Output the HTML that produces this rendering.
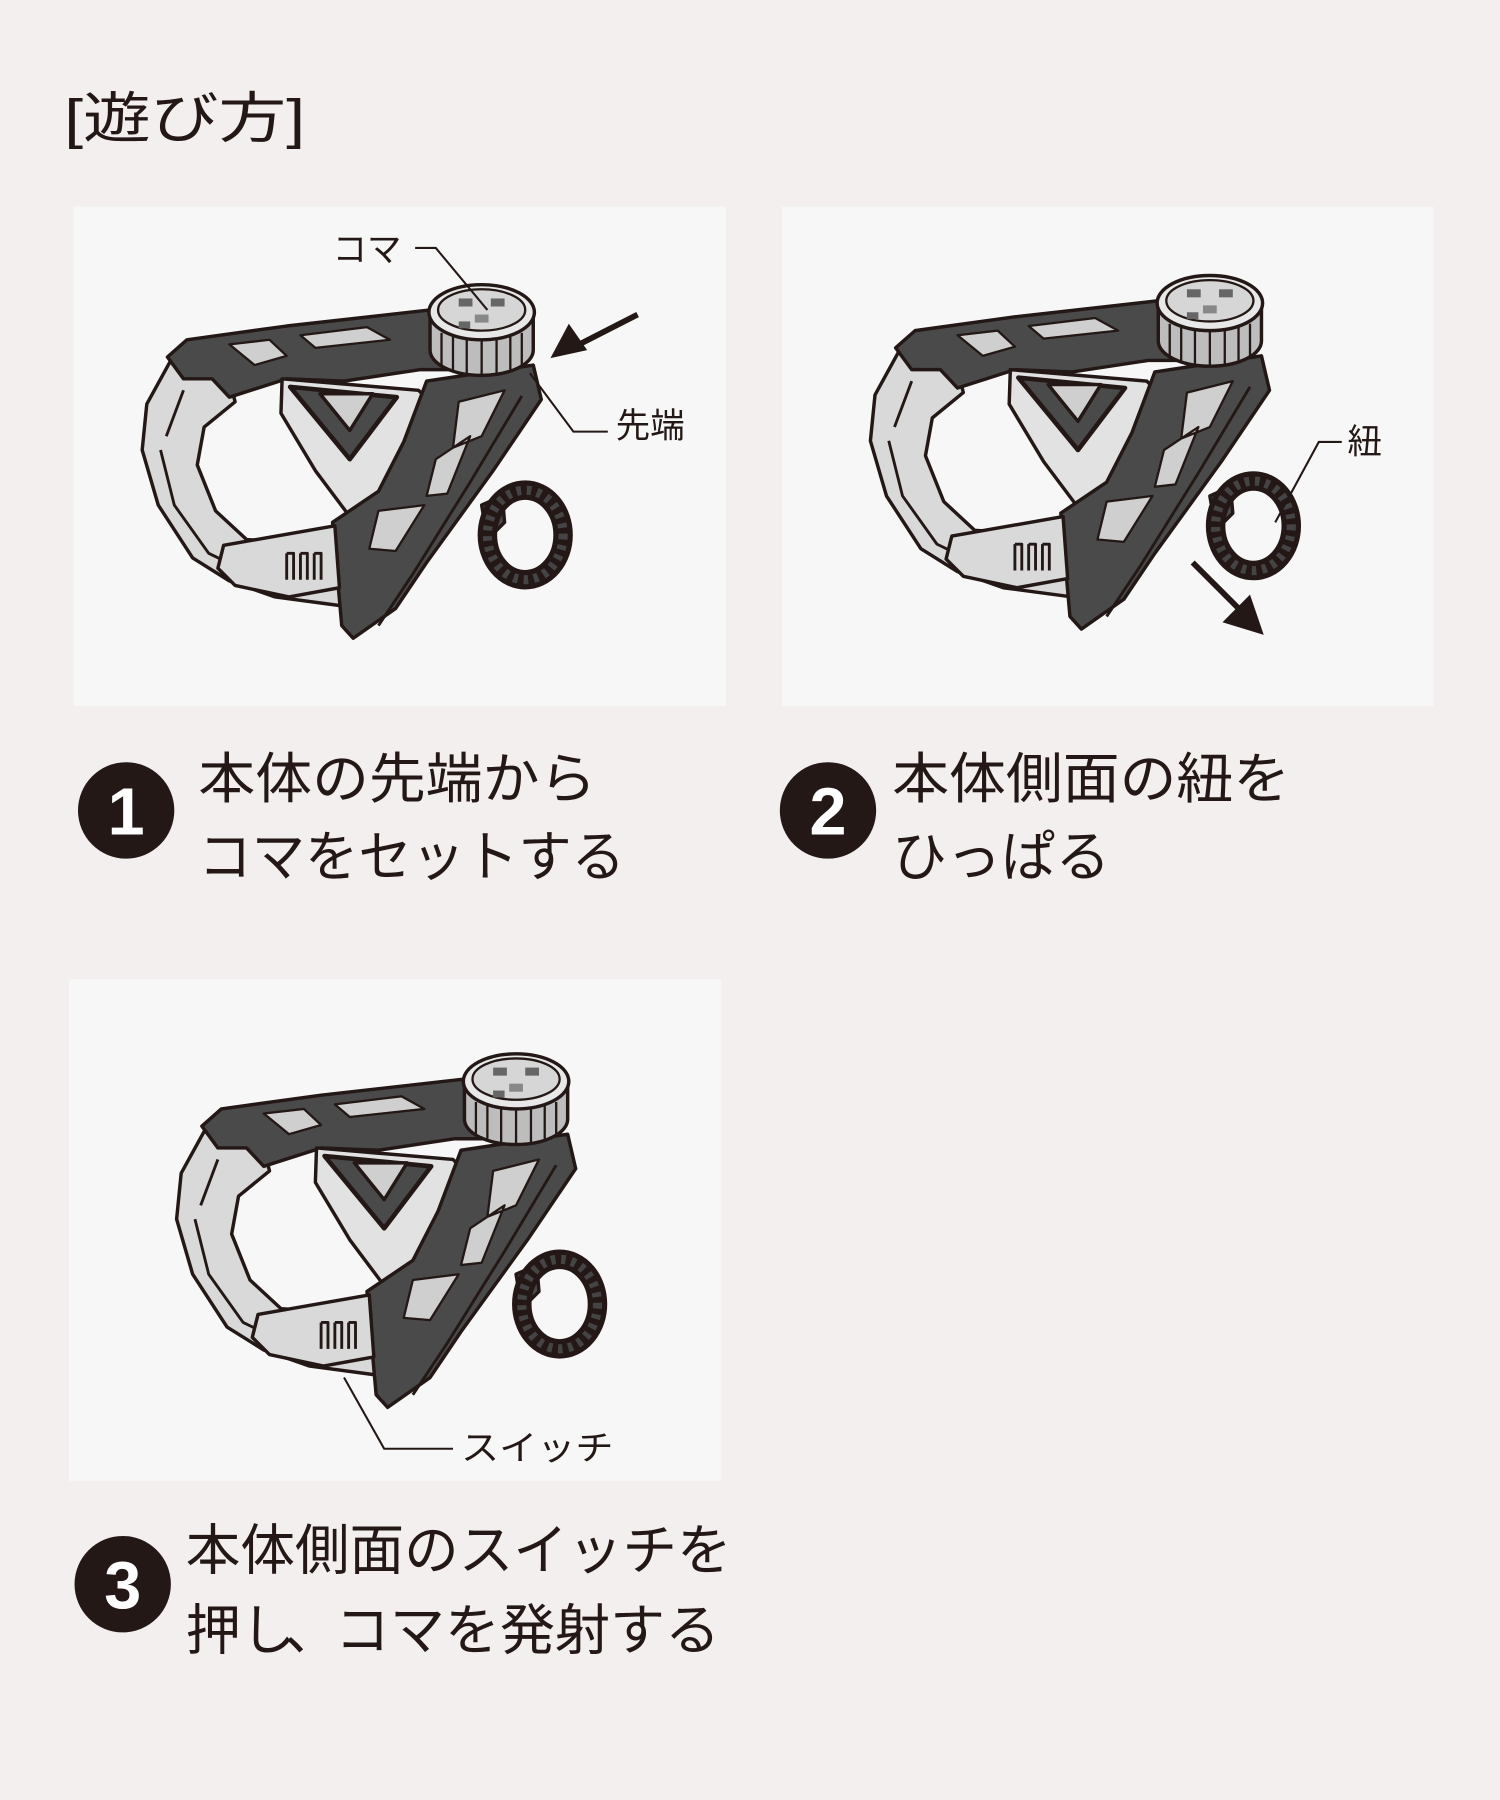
<!DOCTYPE html>
<html><head><meta charset="utf-8"><style>
html,body{margin:0;padding:0;background:#f2efee;}
svg{display:block;}
</style></head><body>
<svg width="1500" height="1800" viewBox="0 0 1308 1568" preserveAspectRatio="none" xmlns="http://www.w3.org/2000/svg" font-family="'Liberation Sans','Noto Sans CJK JP',sans-serif">
<defs>
<g id="dev" stroke="#231815" stroke-width="3" stroke-linejoin="round">
  <path d="M150,312 L128,352 L124,392 L138,440 L168,486 L200,506 L240,520 L300,528 L300,475 L215,470 L188,445 L172,405 L178,372 L205,350 L200,330 Z" fill="#d9d9d9"/>
  <path d="M140,392 L152,440 L182,482 L215,498" fill="none" stroke-width="2.5"/>
  <path d="M160,340 L145,380" fill="none" stroke-width="2.5"/>
  <path d="M146,311 L163,296 L250,284 L375,270 L430,262 L445,305 L420,322 L366,322 L300,332 L250,330 L200,346 L185,330 L160,330 Z" fill="#4a4a4a"/>
  <path d="M200,300 L235,296 L250,310 L222,318 Z M262,292 L320,285 L340,296 L275,303 Z" fill="#cfcfcf" stroke-width="2"/>
  <path d="M246,330 L365,340 L385,360 L340,440 L305,450 L275,410 L245,360 Z" fill="#e2e2e2"/>
  <path d="M253,337 L346,346 L305,400 Z" fill="#4a4a4a" stroke-width="4"/>
  <path d="M279,343 L325,343 L305,375 Z" fill="#cfcfcf"/>
  <path d="M372,332 L465,318 L472,348 L430,410 L372,490 L345,530 L308,556 L298,545 L290,455 L330,428 L352,385 Z" fill="#4a4a4a"/>
  <path d="M400,350 L440,340 L420,380 L395,390 Z M330,445 L370,440 L345,480 L322,478 Z M380,400 L410,380 L390,430 L372,432 Z" fill="#cfcfcf" stroke-width="2"/>
  <path d="M455,345 L410,420 L360,500 L330,545" fill="none" stroke-width="2.5"/>
  <path d="M195,475 L292,458 L296,512 L252,520 L205,510 L190,495 Z" fill="#d9d9d9"/>
  <path d="M250,482 L256,482 L256,505 M250,482 L250,505 M262,482 L268,482 L268,505 M262,482 L262,505 M274,482 L280,482 L280,505 M274,482 L274,505" fill="none" stroke-width="2.5"/>
  <path d="M420,440 L438,432 L440,455 L425,470 Z" fill="#4a4a4a"/>
  <ellipse cx="458" cy="466" rx="33" ry="39" fill="none" stroke="#231815" stroke-width="17"/>
  <ellipse cx="458" cy="466" rx="33" ry="39" fill="none" stroke="#444" stroke-width="8" stroke-dasharray="4 5"/>
  <path d="M375,272 L375,305 A45,22 0 0 0 465,305 L465,272 Z" fill="#bdbdbd"/>
  <path d="M385,290 L385,318 M395,293 L395,322 M407,295 L407,325 M420,296 L420,327 M433,295 L433,325 M445,293 L445,322 M455,290 L455,318" stroke-width="2"/>
  <ellipse cx="420" cy="272" rx="46" ry="24" fill="#e8e8e8"/>
  <ellipse cx="420" cy="270" rx="38" ry="18" fill="#d6d6d6" stroke-width="2"/>
  <rect x="400" y="260" width="12" height="7" fill="#666" stroke="none"/>
  <rect x="428" y="260" width="12" height="7" fill="#666" stroke="none"/>
  <rect x="414" y="274" width="12" height="7" fill="#888" stroke="none"/>
  <rect x="400" y="280" width="10" height="6" fill="#666" stroke="none"/>
</g>
</defs>
<text x="56" y="120" font-size="48" fill="#231815" textLength="210" lengthAdjust="spacingAndGlyphs">[遊び方]</text>

<rect x="64" y="180" width="569" height="435" fill="#f7f7f7"/>
<rect x="682" y="180" width="568" height="435" fill="#f7f7f7"/>
<rect x="60" y="853" width="569" height="437" fill="#f7f7f7"/>

<use href="#dev"/>
<use href="#dev" transform="translate(635,-8)"/>
<use href="#dev" transform="translate(30,670)"/>

<g stroke="#231815" stroke-width="1.8" fill="none">
  <path d="M362,216 L380,216 L425,270"/>
  <path d="M530,376 L500,376 L462,325"/>
  <path d="M1170,385 L1150,385 L1112,455"/>
  <path d="M395,1262 L335,1262 L300,1200"/>
</g>
<g stroke="#231815" stroke-width="5" fill="#231815">
  <path d="M556,274 L505,300"/>
  <path d="M1040,490 L1082,532"/>
</g>
<path d="M480,312 L496,282 L512,305 Z" fill="#231815"/>
<path d="M1102,553 L1066,542 L1090,518 Z" fill="#231815"/>

<g font-size="30" fill="#231815">
  <text x="290" y="228">コマ</text>
  <text x="537" y="381">先端</text>
  <text x="1175" y="395">紐</text>
  <text x="402" y="1272" textLength="133" lengthAdjust="spacingAndGlyphs">スイッチ</text>
</g>

<g font-size="48" fill="#231815">
  <circle cx="110" cy="706" r="42" fill="#231815"/>
  <text x="110" y="727" font-size="58" font-weight="bold" fill="#fff" text-anchor="middle">1</text>
  <text x="173" y="695" textLength="347" lengthAdjust="spacingAndGlyphs">本体の先端から</text>
  <text x="173" y="763" textLength="372" lengthAdjust="spacingAndGlyphs">コマをセットする</text>

  <circle cx="722" cy="706" r="42" fill="#231815"/>
  <text x="722" y="727" font-size="58" font-weight="bold" fill="#fff" text-anchor="middle">2</text>
  <text x="778" y="695" textLength="347" lengthAdjust="spacingAndGlyphs">本体側面の紐を</text>
  <text x="778" y="763" textLength="190" lengthAdjust="spacingAndGlyphs">ひっぱる</text>

  <circle cx="107" cy="1380" r="42" fill="#231815"/>
  <text x="107" y="1401" font-size="58" font-weight="bold" fill="#fff" text-anchor="middle">3</text>
  <text x="162" y="1367" textLength="476" lengthAdjust="spacingAndGlyphs">本体側面のスイッチを</text>
  <text x="162" y="1437">押し<tspan dx="-10">、</tspan><tspan dx="-4">コマを発射する</tspan></text>
</g>
</svg>
</body></html>
